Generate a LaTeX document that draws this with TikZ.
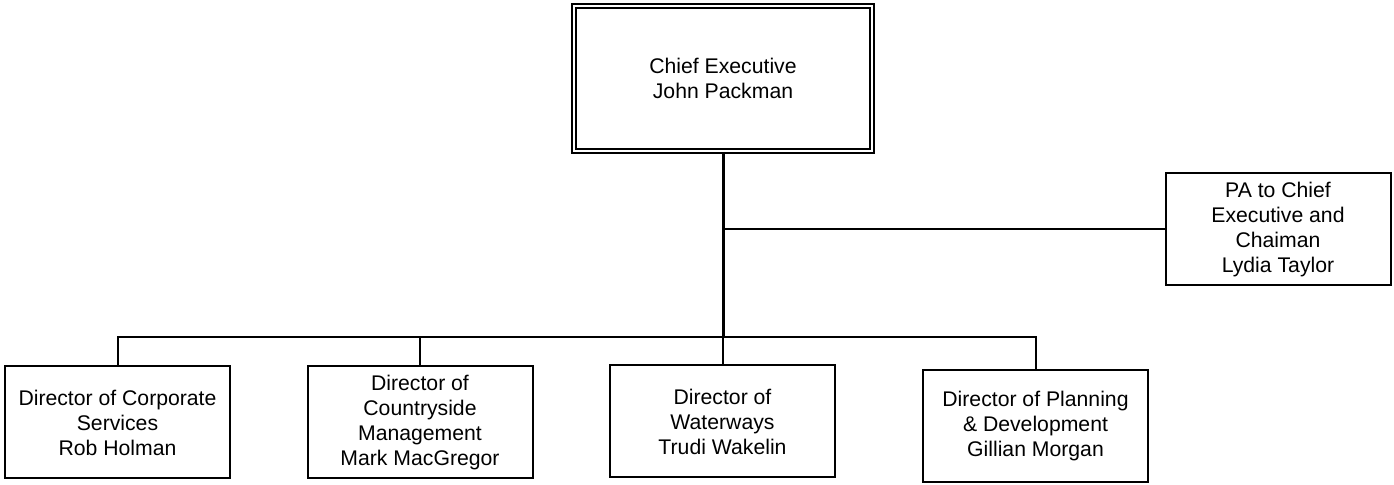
\documentclass[tikz,border=0pt]{standalone}
\usepackage{fontspec}
\setmainfont{Liberation Sans}
\usetikzlibrary{calc}
\tikzset{
	post/.style={draw, line width=1pt, align=center, minimum width=112.5pt, minimum height=56pt, inner sep=0pt, font=\fontsize{10.6}{12.5}\selectfont},
	chief/.style={post, double, line width=1pt, double distance=1.2pt, minimum width=148.8pt, minimum height=72.3pt},
	link/.style={line width=1pt},
	trunk/.style={line width=1.5pt}
}
\newcommand{\drawPost}[4]{
	\node[#1] (#2) at (#3) {#4};
}

\begin{document}
\begin{tikzpicture}[x=0.5pt, y=-0.5pt]
		\useasboundingbox (0,0) rectangle (1394,485);
		\coordinate (CEO_C) at (723,78.5);
		\coordinate (PA_C) at (1278,229.5);
		\coordinate (D1_C) at (117.5,422.5);
		\coordinate (D2_C) at (420,422.5);
		\coordinate (D3_C) at (722.5,421.5);
		\coordinate (D4_C) at (1035.5,426);
		\coordinate (bus) at (723,337);

		\drawPost{chief}{ceo}{CEO_C}{Chief Executive\\John Packman}
		\drawPost{post}{pa}{PA_C}{PA to Chief\\Executive and\\Chaiman\\Lydia Taylor}
		\drawPost{post}{d1}{D1_C}{Director of Corporate\\Services\\Rob Holman}
		\drawPost{post}{d2}{D2_C}{Director of\\Countryside\\Management\\Mark MacGregor}
		\drawPost{post}{d3}{D3_C}{Director of\\Waterways\\Trudi Wakelin}
		\drawPost{post}{d4}{D4_C}{Director of Planning\\\& Development\\Gillian Morgan}

		\draw[trunk] (ceo.south) -- (ceo.south |- bus);
		\draw[link] (pa.west) -- (pa.west -| ceo.south);
		\draw[link] (d1.north) |- (bus) -| (d4.north);
		\draw[link] (d2.north) -- (d2.north |- bus);
		\draw[link] (d3.north) -- (d3.north |- bus);
	\end{tikzpicture}
\end{document}
